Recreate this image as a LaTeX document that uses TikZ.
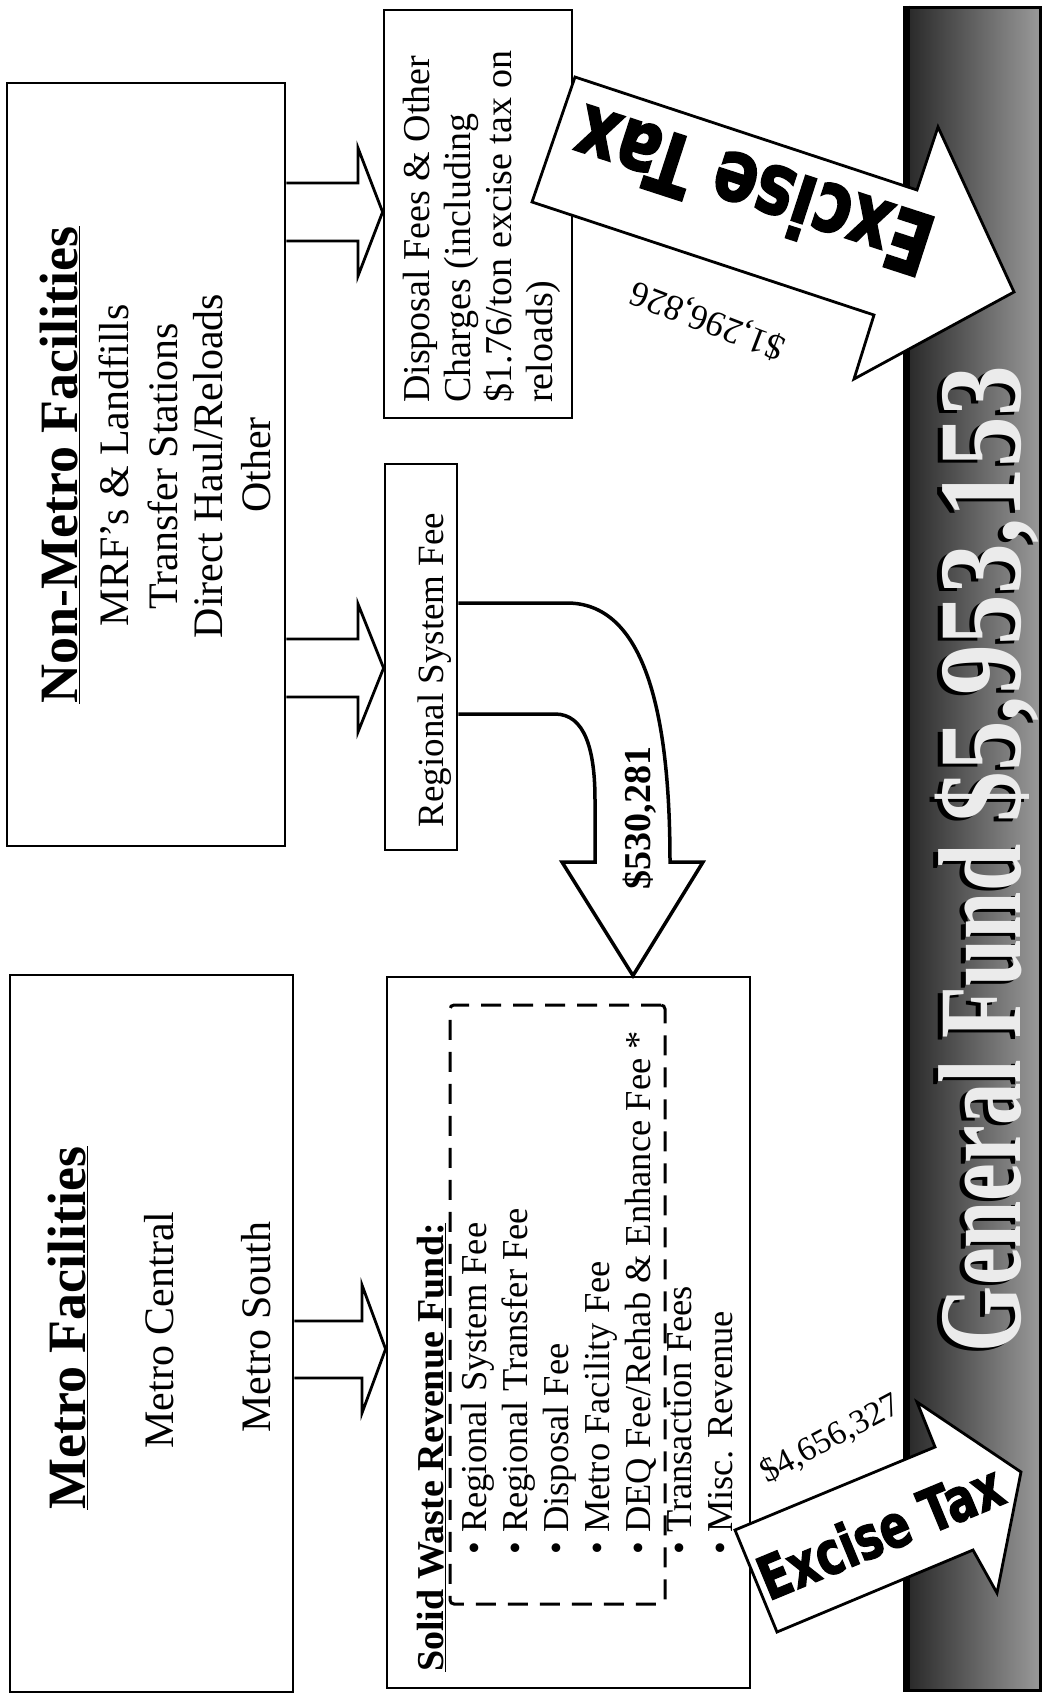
\documentclass[tikz,border=0pt]{standalone}
\usepackage{fontspec}
\setmainfont{Liberation Serif}
\newfontfamily\impactf[FakeStretch=0.75,FakeBold=2]{DejaVu Sans}
\newfontfamily\gffont[FakeStretch=0.72]{Liberation Serif}
\newfontfamily\gfdig[FakeStretch=0.86]{Liberation Serif}
\newcommand{\setfs}[1]{\fontsize{#1}{#1}\selectfont}
\newcommand{\gflabel}{{\gffont General Fund}\hspace{22pt}{\gfdig\$5,953,153}}
\begin{document}
\begin{tikzpicture}[x=1pt,y=-1pt,
  box/.style={draw, line width=2.8pt, fill=white, inner sep=0pt},
  blockarrow/.style={draw, line width=2.8pt, fill=white, line join=miter, miter limit=20},
  curvearrow/.style={draw, line width=3.5pt, fill=white, line join=miter, miter limit=20},
  vtext/.style={rotate=90, inner sep=0pt},
  dashbox/.style={draw, line width=3pt, dash pattern=on 20pt off 12pt, rounded corners=4pt, inner sep=0pt},
]
\useasboundingbox (0,0) rectangle (1045,1701);
\fill[white] (0,0) rectangle (1045,1701);

% General Fund bar
\node[inner sep=0pt, minimum width=136pt, minimum height=1683pt,
      left color=black!85, right color=black!40, draw=black, line width=3pt] (gf) at (972,848.5) {};
\draw[line width=7pt] ([xshift=3.5pt]gf.north west) -- ([xshift=3.5pt]gf.south west);
\node[vtext, anchor=base, font=\setfs{118}\bfseries, text=black] (gfshadow) at (1015,862) {\gflabel};
\node[vtext, anchor=base, font=\setfs{118}\bfseries, text=white!92!black] (gftext) at (1020,859) {\gflabel};

% boxes
\node[box, minimum width=278pt, minimum height=763pt] (nonmetro) at (146,464.5) {};
\node[box, minimum width=283pt, minimum height=717pt] (metro) at (151.5,1333.5) {};
\node[box, minimum width=188pt, minimum height=408pt] (disposal) at (478,214) {};
\node[box, minimum width=72pt, minimum height=386pt] (regional) at (421,657) {};
\node[box, minimum width=363pt, minimum height=711pt] (swrf) at (568.5,1332.5) {};

% block arrows
\draw[blockarrow] (nonmetro.east |- 0,183) -- (358,183) -- (358,148) -- (disposal.west |- 0,212)
  -- (358,276) -- (358,241) -- (nonmetro.east |- 0,241);
\draw[blockarrow] (nonmetro.east |- 0,639) -- (358,639) -- (358,604) -- (regional.west |- 0,668)
  -- (358,732) -- (358,697) -- (nonmetro.east |- 0,697);
\draw[blockarrow] (metro.east |- 0,1321) -- (362,1321) -- (362,1285) -- (swrf.west |- 0,1349)
  -- (362,1413) -- (362,1378) -- (metro.east |- 0,1378);

% curved arrow
\draw[curvearrow] (regional.east |- 0,603) -- (567,603) .. controls (640,603) and (670,700) .. (670,862)
  -- (703,862) -- (swrf.north -| 633,0) -- (562,862) -- (595,862) -- (595,800)
  .. controls (595,750) and (585,714) .. (555,714) -- (regional.east |- 0,714);

% Non-Metro text
\node[vtext, anchor=base, font=\setfs{54}\bfseries] (nmtitle) at (77,465) {\underline{Non-Metro Facilities}};
\node[vtext, anchor=base, font=\setfs{42}] (nm1) at (128,465) {MRF’s \& Landfills};
\node[vtext, anchor=base, font=\setfs{42}] (nm2) at (177,466) {Transfer Stations};
\node[vtext, anchor=base, font=\setfs{42}] (nm3) at (222,466) {Direct Haul/Reloads};
\node[vtext, anchor=base, font=\setfs{42}] (nm4) at (270,465) {Other};

% Metro text
\node[vtext, anchor=base, font=\setfs{54}\bfseries] (mtitle) at (85,1328) {\underline{Metro Facilities}};
\node[vtext, anchor=base, font=\setfs{42}] (m1) at (173,1330) {Metro Central};
\node[vtext, anchor=base, font=\setfs{42}] (m2) at (270,1327) {Metro South};

% Disposal text
\node[vtext, anchor=base west, font=\setfs{38}] (d1) at (429,403) {Disposal Fees \& Other};
\node[vtext, anchor=base west, font=\setfs{38}] (d2) at (470,403) {Charges (including};
\node[vtext, anchor=base west, font=\setfs{38}] (d3) at (511,403) {\$1.76/ton excise tax on};
\node[vtext, anchor=base west, font=\setfs{38}] (d4) at (552,403) {reloads)};

% Regional text
\node[vtext, anchor=base, font=\setfs{37}] (rsf) at (443,670) {Regional System Fee};
\node[vtext, anchor=base, font=\setfs{38}\bfseries] (amt3) at (650,818) {\$530,281};

% Solid waste revenue fund
\node[dashbox, minimum width=215pt, minimum height=599pt] (dashed) at (557.5,1304.5) {};
\node[vtext, anchor=base west, font=\setfs{38}\bfseries] (swt) at (443,1672) {\underline{Solid Waste Revenue Fund:}};
\node[vtext, anchor=base west, font=\setfs{36.5}] (s1) at (486,1555) {• Regional System Fee};
\node[vtext, anchor=base west, font=\setfs{36.5}] (s2) at (527,1555) {• Regional Transfer Fee};
\node[vtext, anchor=base west, font=\setfs{36.5}] (s3) at (568,1555) {• Disposal Fee};
\node[vtext, anchor=base west, font=\setfs{36.5}] (s4) at (609,1555) {• Metro Facility Fee};
\node[vtext, anchor=base west, font=\setfs{36.5}] (s5) at (650,1555) {• DEQ Fee/Rehab \& Enhance Fee *};
\node[vtext, anchor=base west, font=\setfs{36.5}] (s6) at (691,1555) {• Transaction Fees};
\node[vtext, anchor=base west, font=\setfs{36.5}] (s7) at (732,1555) {• Misc. Revenue};

% Excise tax arrows
\coordinate (ex1tail) at (553.5,139.5);
\draw[blockarrow] (575,77) -- (917,190) -- (938,127) -- (1014,292) -- (854,379) -- (874,315) -- (532,202) -- cycle;
\node[inner sep=0pt, rotate=162, font=\impactf\setfs{86}\bfseries] (ex1txt) at (753,192) {Excise Tax};
\node[inner sep=0pt, rotate=159, font=\setfs{36}] (ex1amt) at (708,320) {\$1,296,826};

\coordinate (ex2tail) at (756,1581);
\draw[blockarrow] (735,1530) -- (935,1447) -- (917,1402) -- (1021,1472) -- (997,1593) -- (973,1550) -- (777,1632) -- cycle;
\node[inner sep=0pt, rotate=22.5, font=\impactf\setfs{60}\bfseries] (ex2txt) at (880,1531) {Excise Tax};
\node[inner sep=0pt, rotate=28, font=\setfs{34}] (ex2amt) at (830,1439) {\$4,656,327};
\end{tikzpicture}
\end{document}
